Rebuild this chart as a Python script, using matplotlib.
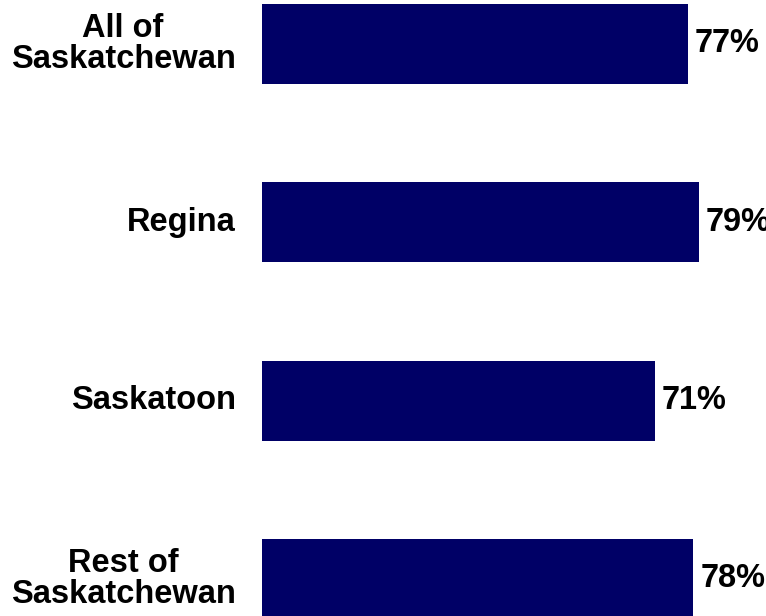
import matplotlib
matplotlib.use("Agg")
import matplotlib.pyplot as plt

categories = ["All of\nSaskatchewan", "Regina", "Saskatoon", "Rest of\nSaskatchewan"]
values = [77, 79, 71, 78]
value_labels = ["77%", "79%", "71%", "78%"]

plt.rcParams['font.family'] = ['Liberation Sans', 'DejaVu Sans']

W, H = 766, 616
fig = plt.figure(figsize=(W / 100, H / 100), dpi=100)
ax = fig.add_axes([0, 0, 1, 1])

px_per_unit = 5.532
x0_px = 262
ax.set_xlim(-x0_px / px_per_unit, (W - x0_px) / px_per_unit)

spacing = 178.33
c0 = 44
ax.set_ylim((H - c0) / spacing, -c0 / spacing)

pos = list(range(len(categories)))
ax.barh(pos, values, height=0.45, color="#000066")

FS = 23.5
for p, v, lab in zip(pos, values, value_labels):
    ax.annotate(lab, (v, p), xytext=(5, 0), textcoords="offset points",
                ha="left", va="center", fontsize=FS, fontweight="bold",
                color="black", annotation_clip=False)

for p, cat in zip(pos, categories):
    ax.annotate(cat, (0, p), xytext=(-19, 0), textcoords="offset points",
                ha="right", va="center", multialignment="center",
                linespacing=1.0, fontsize=FS, fontweight="bold",
                color="black", annotation_clip=False)

ax.set_xticks([])
ax.set_yticks([])
for s in ax.spines.values():
    s.set_visible(False)

fig.savefig("out.png", dpi=100)
